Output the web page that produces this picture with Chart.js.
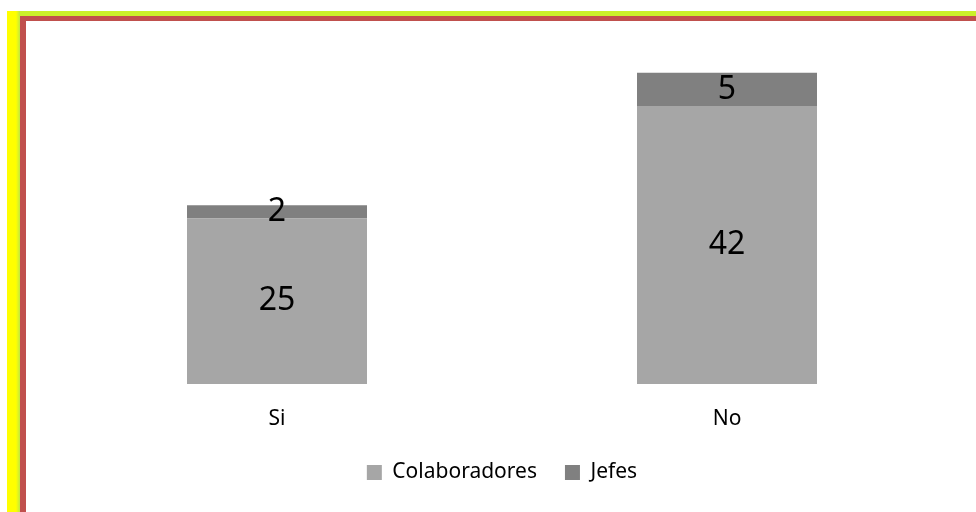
<!DOCTYPE html>
<html>
<head>
<meta charset="utf-8">
<script src="https://cdn.jsdelivr.net/npm/chart.js@4"></script>
<style>
    html, body { margin: 0; padding: 0; background: #fff; overflow: hidden; }
    .band { position: absolute; }
    #top { left: 12px; top: 11px; width: 1000px; height: 5px; background: #cbf02a; }
    #left { left: 7px; top: 11px; width: 13px; height: 520px;
            background: linear-gradient(to right, #ffff00 0, #ffff00 9px, #bfe843 13px); }
    #red { left: 20px; top: 16px; width: 1000px; height: 520px;
           border-top: 5px solid #c0504d; border-left: 6px solid #c0504d; background: #fff; }
    #wrap { position: absolute; left: 0; top: 0; width: 976px; height: 512px; }
</style>
</head>
<body>
<div id="top" class="band"></div>
<div id="left" class="band"></div>
<div id="red" class="band"></div>
<div id="wrap"><canvas id="myChart" width="976" height="512"></canvas></div>
<script>
const categories = ['Si', 'No'];
const colaboradores = [25, 42];
const jefes = [2, 5];

// etiquetas de valor en el centro de cada segmento
const valueLabels = {
    id: 'valueLabels',
    afterDatasetsDraw(chart) {
        const ctx = chart.ctx;
        ctx.save();
        ctx.font = '32px "Noto Sans"';
        ctx.fillStyle = '#000';
        ctx.textAlign = 'center';
        ctx.textBaseline = 'middle';
        chart.data.datasets.forEach((ds, i) => {
            chart.getDatasetMeta(i).data.forEach((bar, j) => {
                const p = bar.getProps(['x', 'y', 'base'], true);
                ctx.fillText(ds.data[j], p.x, (p.y + p.base) / 2);
            });
        });
        ctx.restore();
    }
};

document.addEventListener('DOMContentLoaded', function () {
    const ctx = document.getElementById('myChart').getContext('2d');
    new Chart(ctx, {
        type: 'bar',
        data: {
            labels: categories,
            datasets: [{
                label: 'Colaboradores',
                data: colaboradores,
                backgroundColor: '#a6a6a6',
                barPercentage: 0.4,
                categoryPercentage: 1
            }, {
                label: 'Jefes',
                data: jefes,
                backgroundColor: '#808080',
                barPercentage: 0.4,
                categoryPercentage: 1
            }]
        },
        options: {
            responsive: false,
            animation: false,
            layout: { padding: { left: 52, right: 24, top: 53, bottom: 19 } },
            scales: {
                x: {
                    stacked: true,
                    grid: { display: false, drawTicks: false },
                    border: { display: false },
                    ticks: { color: '#000', font: { family: 'Noto Sans', size: 21 }, padding: 22 },
                    afterFit: function (scale) { scale.height = 50; }
                },
                y: {
                    stacked: true,
                    display: false,
                    min: 0,
                    max: 50
                }
            },
            plugins: {
                tooltip: { enabled: false },
                legend: {
                    position: 'bottom',
                    labels: {
                        color: '#000',
                        font: { family: 'Noto Sans', size: 21 },
                        boxWidth: 15,
                        boxHeight: 15,
                        padding: 28
                    }
                }
            }
        },
        plugins: [valueLabels]
    });
});
</script>
</body>
</html>
